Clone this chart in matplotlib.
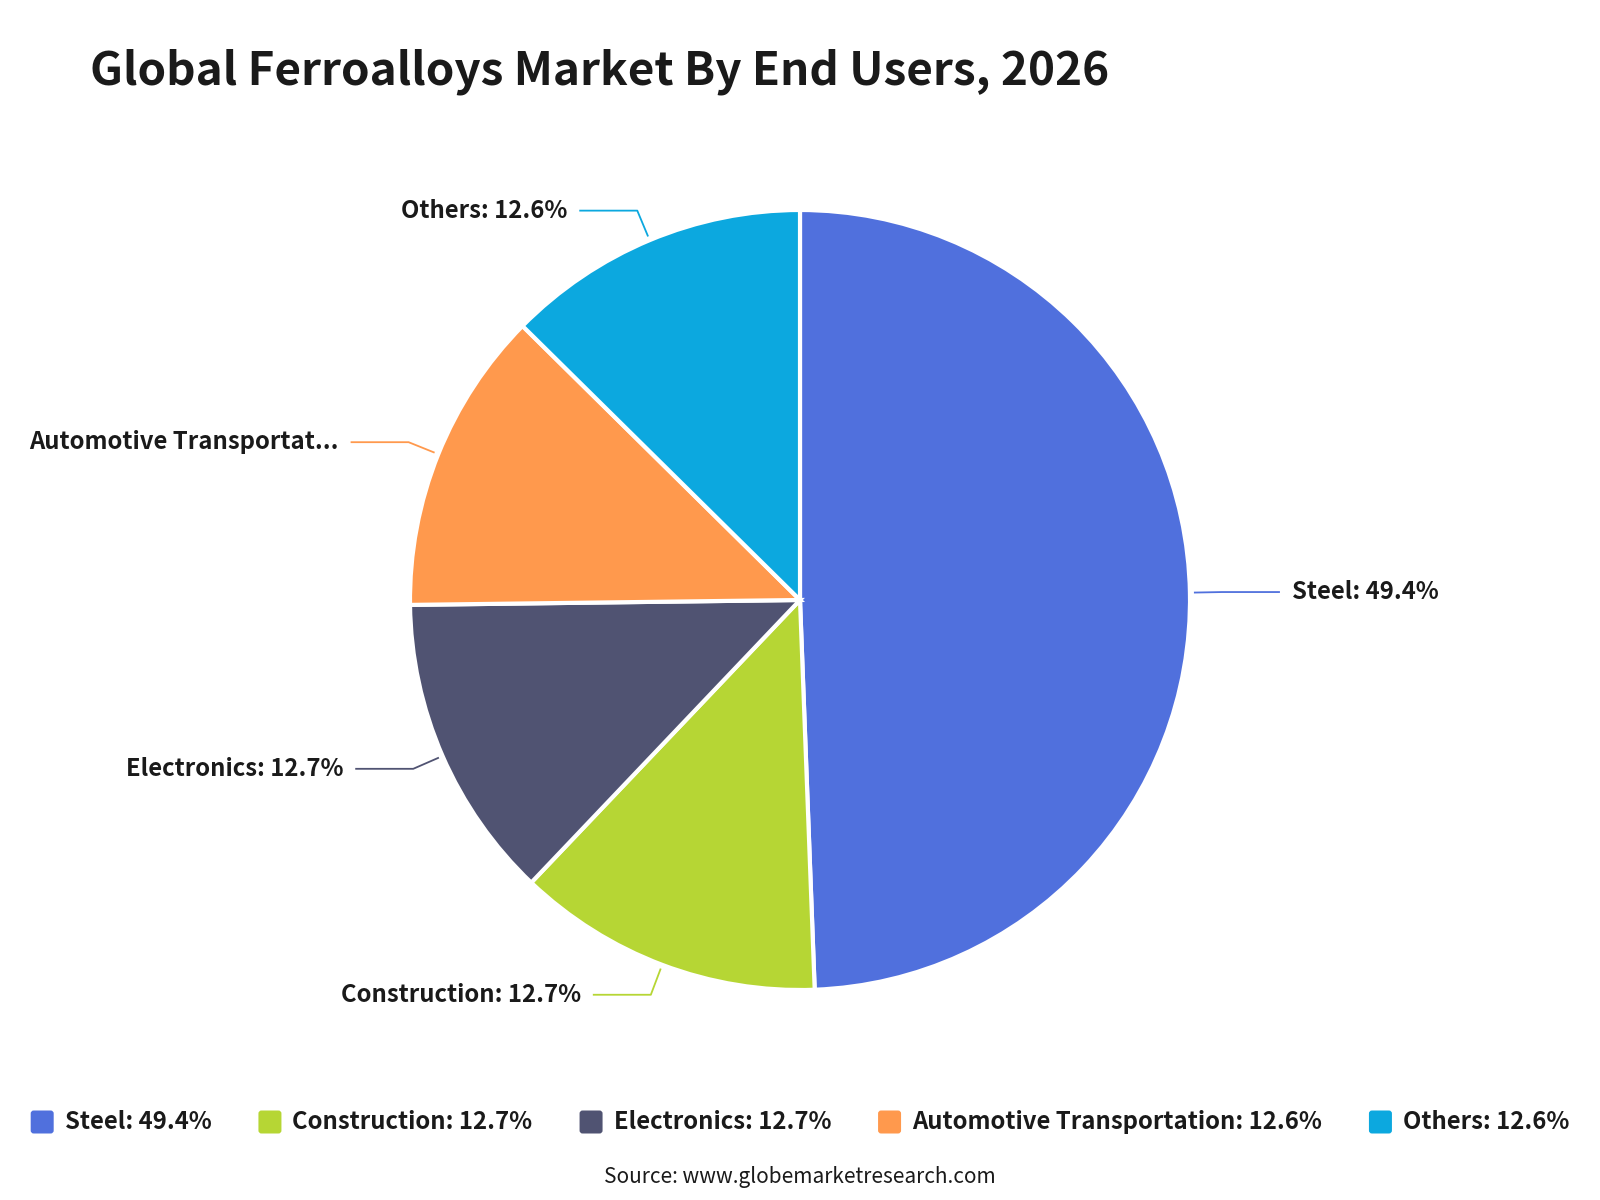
import matplotlib
matplotlib.use('Agg')
import matplotlib.pyplot as plt
from matplotlib.patches import FancyBboxPatch
import numpy as np

#chart data
categories = ['Steel', 'Construction', 'Electronics', 'Automotive Transportation', 'Others']
shares = [49.4, 12.7, 12.7, 12.6, 12.6]
colors = ['#5070dd', '#b6d634', '#505372', '#ff994d', '#0ca8df']
#pie labels as shown (long one is cut off in the original)
pie_labels = ['Steel: 49.4%', 'Construction: 12.7%', 'Electronics: 12.7%',
              'Automotive Transportat...', 'Others: 12.6%']
title = 'Global Ferroalloys Market By End Users, 2026'
source = 'Source: www.globemarketresearch.com'

plt.rcParams['font.family'] = ['Noto Sans CJK SC', 'DejaVu Sans']
W, H = 1600, 1200
fig = plt.figure(figsize=(16, 12), dpi=100)
ax = fig.add_axes([0, 0, 1, 1])

#pie geometry in pixel units
cx, cy, r = 800, 600, 390
wedges, _ = ax.pie(shares, colors=colors, startangle=90, counterclock=False,
                   center=(cx, cy), radius=r,
                   wedgeprops=dict(edgecolor='white', linewidth=3))
ax.set_xlim(0, W)
ax.set_ylim(0, H)
ax.set_aspect('equal')
ax.axis('off')

#leader lines and labels
for w, lab, col in zip(wedges, pie_labels, colors):
    mid = np.deg2rad((w.theta1 + w.theta2) / 2)
    x0, y0 = cx + (r + 4) * np.cos(mid), cy + (r + 4) * np.sin(mid)
    x1, y1 = cx + (r + 32) * np.cos(mid), cy + (r + 32) * np.sin(mid)
    side = 1 if np.cos(mid) >= 0 else -1
    x2 = x1 + side * 58
    ax.plot([x0, x1, x2], [y0, y1, y1], color=col, lw=1.3, solid_capstyle='butt')
    ax.text(x2 + side * 12, y1, lab, ha='left' if side > 0 else 'right', va='center',
            fontsize=17.2, fontweight='bold', color='#1a1a1a')

#title
fig.text(90 / W, 1 - 72 / H, title, fontsize=33, fontweight='bold', color='#1a1a1a',
         ha='left', va='center')

#legend drawn by hand so it can be centred in one row
fig.canvas.draw()
renderer = fig.canvas.get_renderer()
leg_y = H - 1122
box = 23
gap_txt = 11
gap_item = 47
items = []
total = 0
for cat, s in zip(categories, shares):
    t = ax.text(0, leg_y, f'{cat}: {s}%', fontsize=17.2, fontweight='bold',
                color='#1a1a1a', va='center', ha='left')
    tw = t.get_window_extent(renderer).width
    items.append((t, tw))
    total += box + gap_txt + tw
total += gap_item * (len(items) - 1)
x = (W - total) / 2
for (t, tw), col in zip(items, colors):
    ax.add_patch(FancyBboxPatch((x + 3, leg_y - box / 2 + 3), box - 6, box - 6,
                                boxstyle='round,pad=3', fc=col, ec='none'))
    t.set_x(x + box + gap_txt)
    x += box + gap_txt + tw + gap_item

ax.text(W / 2, H - 1177, source, fontsize=15, color='#1a1a1a', ha='center', va='center')

fig.savefig('out.png', dpi=100)
